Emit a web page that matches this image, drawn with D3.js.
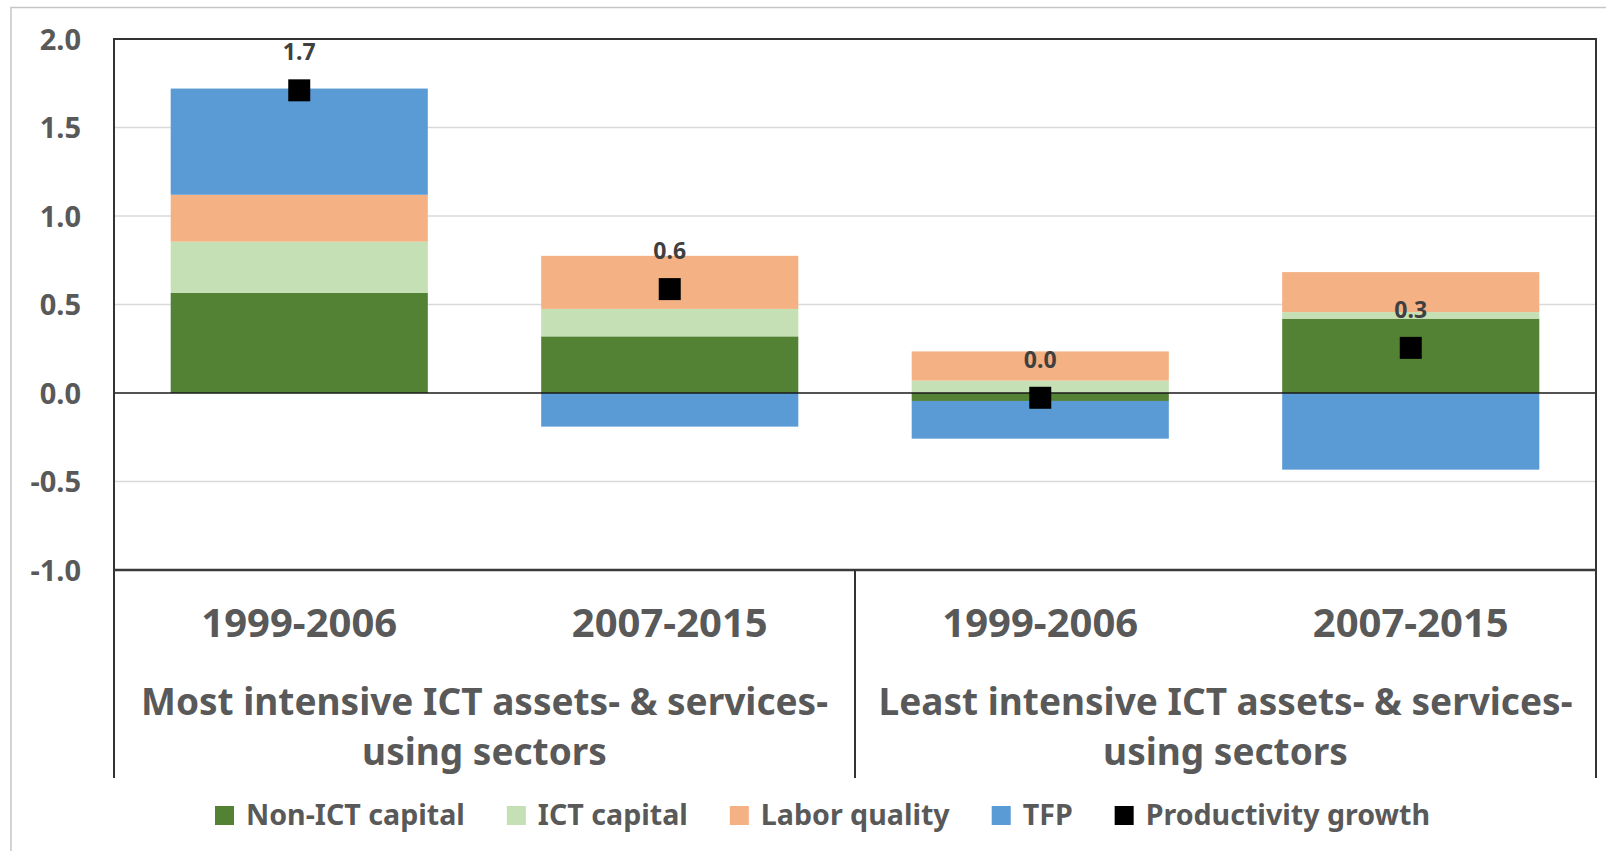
<!DOCTYPE html>
<html>
<head>
<meta charset="utf-8">
<script src="https://cdn.jsdelivr.net/npm/d3@7"></script>
<style>
  body { margin: 0; background: #fff; }
  svg { display: block; }
  text { font-family: "Noto Sans", "Open Sans", sans-serif; font-weight: 700; fill: #595959; }
</style>
</head>
<body>
<svg id="chart" width="1606" height="851"></svg>
<script>
// chart values
var periods = ["1999-2006", "2007-2015", "1999-2006", "2007-2015"];
var groupLabels = [
  ["Most intensive ICT assets- & services-", "using sectors"],
  ["Least intensive ICT assets- & services-", "using sectors"]
];
var seriesNames = ["Non-ICT capital", "ICT capital", "Labor quality", "TFP"];
var nonIctCapital = [0.565, 0.32, -0.045, 0.42];
var ictCapital = [0.29, 0.155, 0.07, 0.037];
var laborQuality = [0.265, 0.30, 0.165, 0.226];
var tfp = [0.60, -0.19, -0.213, -0.433];
var productivityGrowth = [1.71, 0.587, -0.027, 0.255];
var yTicks = [-1.0, -0.5, 0.0, 0.5, 1.0, 1.5, 2.0];

var colors = ["#548235", "#c5e0b4", "#f4b183", "#5b9bd5"];

var svg = d3.select("#chart");

// plot frame
var plotLeft = 114, plotRight = 1596, plotTop = 39, plotBottom = 570, axisBottom = 778;

// outer chart border
svg.append("rect")
  .attr("x", 11).attr("y", 7.5)
  .attr("width", 1640).attr("height", 900)
  .attr("fill", "none").attr("stroke", "#c6c6c6").attr("stroke-width", 1.5);

var x = d3.scaleBand()
  .domain(d3.range(periods.length))
  .range([plotLeft, plotRight])
  .paddingInner(0.306)
  .paddingOuter(0.153);

var y = d3.scaleLinear().domain([-1, 2]).range([plotBottom, plotTop]);

// plain hyphen for negatives, like the original
var fmt = d3.formatLocale({decimal: ".", thousands: ",", grouping: [3], currency: ["", ""], minus: "-"}).format(".1f");

// rows for the stack
var rows = periods.map(function(p, i){
  return {
    "Non-ICT capital": nonIctCapital[i],
    "ICT capital": ictCapital[i],
    "Labor quality": laborQuality[i],
    "TFP": tfp[i]
  };
});

var stacked = d3.stack()
  .keys(seriesNames)
  .offset(d3.stackOffsetDiverging)(rows);

// gridlines
svg.append("g")
  .selectAll("line")
  .data(yTicks.filter(function(t){ return t > -1 && t < 2 && t !== 0; }))
  .join("line")
  .attr("x1", plotLeft).attr("x2", plotRight)
  .attr("y1", function(d){ return y(d); })
  .attr("y2", function(d){ return y(d); })
  .attr("stroke", "#d9d9d9").attr("stroke-width", 1.5);

// y axis labels
var yAxis = d3.axisLeft(y).tickValues(yTicks).tickFormat(fmt).tickSize(0).tickPadding(0);
var yg = svg.append("g").attr("transform", "translate(81,0)").call(yAxis);
yg.select(".domain").remove();
yg.selectAll("text")
  .attr("font-size", 29)
  .attr("font-family", null)
  .attr("dy", "0.36em")
  .style("fill", "#595959");

// bars
svg.append("g")
  .selectAll("g")
  .data(stacked)
  .join("g")
  .attr("fill", function(d, i){ return colors[i]; })
  .selectAll("rect")
  .data(function(d){ return d; })
  .join("rect")
  .attr("x", function(d, i){ return x(i); })
  .attr("width", x.bandwidth())
  .attr("y", function(d){ return y(Math.max(d[0], d[1])); })
  .attr("height", function(d){ return Math.abs(y(d[0]) - y(d[1])); });

// zero line
svg.append("line")
  .attr("x1", plotLeft).attr("x2", plotRight)
  .attr("y1", y(0)).attr("y2", y(0))
  .attr("stroke", "#1a1a1a").attr("stroke-width", 1.5);

// frame: top, sides and category axis
svg.append("path")
  .attr("d", "M" + plotLeft + "," + axisBottom + "V" + plotTop + "H" + plotRight + "V" + axisBottom)
  .attr("fill", "none").attr("stroke", "#333").attr("stroke-width", 2);
svg.append("line")
  .attr("x1", plotLeft).attr("x2", plotRight)
  .attr("y1", y(-1)).attr("y2", y(-1))
  .attr("stroke", "#3a3a3a").attr("stroke-width", 2.5);
svg.append("line")
  .attr("x1", (plotLeft + plotRight) / 2).attr("x2", (plotLeft + plotRight) / 2)
  .attr("y1", y(-1)).attr("y2", axisBottom)
  .attr("stroke", "#333").attr("stroke-width", 2);

// productivity markers
svg.append("g")
  .selectAll("path")
  .data(productivityGrowth)
  .join("path")
  .attr("d", d3.symbol().type(d3.symbolSquare).size(22 * 22))
  .attr("transform", function(d, i){ return "translate(" + (x(i) + x.bandwidth() / 2) + "," + y(d) + ")"; })
  .attr("fill", "#000");

svg.append("g")
  .selectAll("text")
  .data(productivityGrowth)
  .join("text")
  .attr("x", function(d, i){ return x(i) + x.bandwidth() / 2; })
  .attr("y", function(d){ return y(d) - 30; })
  .attr("text-anchor", "middle")
  .attr("font-size", 23)
  .style("fill", "#404040")
  .text(function(d){ var s = fmt(d); return s === "-0.0" ? "0.0" : s; });

// period labels
svg.append("g")
  .selectAll("text")
  .data(periods)
  .join("text")
  .attr("x", function(d, i){ return x(i) + x.bandwidth() / 2; })
  .attr("y", 637)
  .attr("text-anchor", "middle")
  .attr("font-size", 40)
  .text(function(d){ return d; });

// group labels
var groupWidth = (plotRight - plotLeft) / 2;
var gl = svg.append("g")
  .selectAll("text")
  .data(groupLabels)
  .join("text")
  .attr("text-anchor", "middle")
  .attr("font-size", 37);
gl.selectAll("tspan")
  .data(function(d, gi){ return d.map(function(t, li){ return {t: t, gi: gi, li: li}; }); })
  .join("tspan")
  .attr("x", function(d){ return plotLeft + groupWidth * d.gi + groupWidth / 2; })
  .attr("y", function(d){ return 715 + d.li * 50; })
  .text(function(d){ return d.t; });

// legend
var legendItems = seriesNames.map(function(n, i){ return {name: n, color: colors[i]}; })
  .concat([{name: "Productivity growth", color: "#000"}]);
var lx = 215;
var legend = svg.append("g");
legendItems.forEach(function(item){
  legend.append("rect")
    .attr("x", lx).attr("y", 806)
    .attr("width", 19).attr("height", 19)
    .attr("fill", item.color);
  var t = legend.append("text")
    .attr("x", lx + 31).attr("y", 825)
    .attr("font-size", 28.6)
    .text(item.name);
  lx += 31 + t.node().getComputedTextLength() + 42;
});
</script>
</body>
</html>
